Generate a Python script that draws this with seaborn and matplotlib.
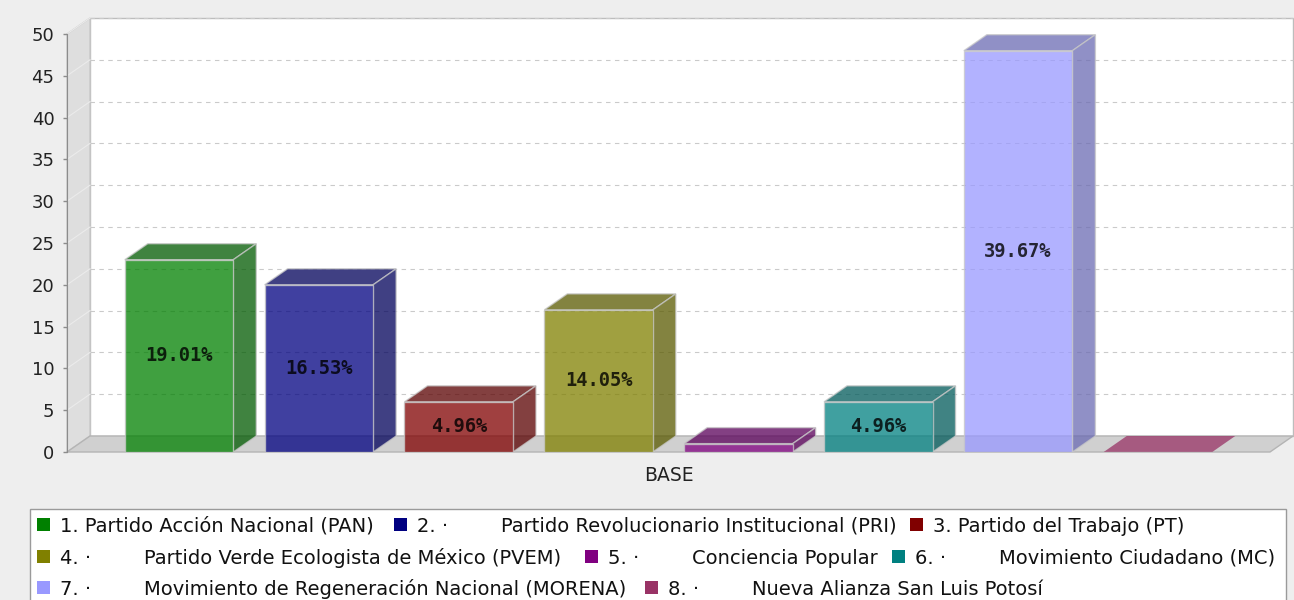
import numpy as np
import pandas as pd
import seaborn as sns
import matplotlib
matplotlib.use("Agg")
from matplotlib import pyplot as plt
from matplotlib.patches import Polygon, Rectangle
from matplotlib.lines import Line2D
from matplotlib.transforms import IdentityTransform
from matplotlib.colors import to_rgb

# --- datos ---
categoria = "BASE"
partidos = [
    "1. Partido Acción Nacional (PAN)",
    "2. ·\tPartido Revolucionario Institucional (PRI)",
    "3. Partido del Trabajo (PT)",
    "4. ·\tPartido Verde Ecologista de México (PVEM)",
    "5. ·\tConciencia Popular",
    "6. ·\tMovimiento Ciudadano (MC)",
    "7. ·\tMovimiento de Regeneración Nacional (MORENA)",
    "8. ·\tNueva Alianza San Luis Potosí",
]
votos = [23, 20, 6, 17, 1, 6, 48, 0]
etiquetas = ["19.01%", "16.53%", "4.96%", "14.05%", "", "4.96%", "39.67%", ""]
colores = ["#008000", "#000080", "#800000", "#808000",
           "#800080", "#008080", "#9999ff", "#993366"]
ticks_y = list(range(0, 51, 5))

df = pd.DataFrame({"categoria": [categoria] * len(partidos),
                   "partido": partidos, "votos": votos})

# --- geometria (pixeles de la imagen) ---
W, H = 1294, 600
x_izq, x_der = 67, 1270
y_base, y_tope = 452, 34
dx, dy = 23, 16
borde = "#c8c8c8"

fig = plt.figure(figsize=(W / 100, H / 100), dpi=100, facecolor="#eeeeee")
ax = fig.add_axes([x_izq / W, (H - y_base) / H, (x_der - x_izq) / W, (y_base - y_tope) / H])
ax.patch.set_visible(False)

sns.barplot(data=df, x="categoria", y="votos", hue="partido", hue_order=partidos,
            palette=colores, saturation=1, width=0.93, gap=0.224, alpha=0.75,
            edgecolor=borde, linewidth=1, legend=False, ax=ax, zorder=3)
ax.set_xlim(-0.5, 0.5)
ax.set_ylim(0, 50)
barras = sorted(ax.patches, key=lambda p: p.get_x())

T = ax.transData
I = IdentityTransform()

def pt(x, y):
    return T.transform((x, y))

x0d, y0d = pt(-0.5, 0)
x1d, y1d = pt(0.5, 50)

# paredes 3D
ax.add_patch(Rectangle((x0d + dx, y0d + dy), x1d - x0d, y1d - y0d, transform=I,
                       fc="white", ec="#bdbdbd", lw=1, zorder=0.5, clip_on=False))
for v in ticks_y[1:]:
    yv = pt(0, v)[1]
    ax.add_line(Line2D([x0d + dx, x1d + dx], [yv + dy, yv + dy], transform=I,
                       color="#cacaca", lw=0.8, ls=(0, (4, 4)), zorder=0.8, clip_on=False))
ax.add_patch(Polygon([(x0d, y0d), (x0d + dx, y0d + dy), (x0d + dx, y1d + dy), (x0d, y1d)],
                     transform=I, fc="#dedede", ec=borde, lw=1, zorder=1, clip_on=False))
for v in ticks_y[1:]:
    yv = pt(0, v)[1]
    ax.add_line(Line2D([x0d, x0d + dx], [yv, yv + dy], transform=I,
                       color="#ebebeb", lw=0.8, zorder=1.1, clip_on=False))
ax.add_patch(Polygon([(x0d, y0d), (x1d, y0d), (x1d + dx, y0d + dy), (x0d + dx, y0d + dy)],
                     transform=I, fc="#d0d0d0", ec="#b4b4b4", lw=1, zorder=1.2, clip_on=False))

# caras superior y lateral de cada barra
for p, col, lab in zip(barras, colores, etiquetas):
    h = p.get_height()
    bx0, by0 = pt(p.get_x(), 0)
    bx1, by1 = pt(p.get_x() + p.get_width(), h)
    oscuro = tuple(np.array(to_rgb(col)) * 0.7)
    arriba = oscuro if h > 0 else col
    ax.add_patch(Polygon([(bx0, by1), (bx1, by1), (bx1 + dx, by1 + dy), (bx0 + dx, by1 + dy)],
                         transform=I, fc=arriba, ec=borde if h > 0 else "none", lw=1,
                         alpha=0.75, zorder=2.8, clip_on=False))
    if h > 0:
        ax.add_patch(Polygon([(bx1, by0), (bx1 + dx, by0 + dy), (bx1 + dx, by1 + dy), (bx1, by1)],
                             transform=I, fc=oscuro, ec=borde, lw=1, alpha=0.75,
                             zorder=2.8, clip_on=False))
    if lab:
        ax.text(p.get_x() + p.get_width() / 2, h / 2, lab, ha="center", va="center",
                family="DejaVu Sans Mono", weight="bold", fontsize=13.5,
                color=(0, 0, 0, 0.8), zorder=4)

# ejes
for s in ["top", "right", "bottom"]:
    ax.spines[s].set_visible(False)
ax.spines["left"].set_color("#8c8c8c")
ax.spines["left"].set_zorder(2.5)
ax.set_yticks(ticks_y)
ax.tick_params(axis="y", length=3, width=1, color="#8c8c8c", labelsize=13,
               labelcolor="#222222", pad=6)
ax.tick_params(axis="x", length=0, pad=10, labelsize=13.5, labelcolor="#222222")
ax.set_xlabel("")
ax.set_ylabel("")

# leyenda (flujo en tres filas como el original)
fig.add_artist(Rectangle((30, -10), 1256, H - 509 + 10, transform=I,
                         fc="white", ec="#9a9a9a", lw=1))
fila_base = [532, 564, 595]
fila = [0, 0, 0, 1, 1, 1, 2, 2]
texto_x = [60, 417, 933, 60, 608, 915, 60, 668]
for lab, col, f, tx in zip(partidos, colores, fila, texto_x):
    yb = H - fila_base[f]
    fig.add_artist(Rectangle((tx - 23, yb + 1), 13, 13, transform=I, fc=col, ec="none"))
    partes = lab.split("\t")
    fig.text(tx, yb, partes[0], transform=I, fontsize=14, color="#111111", va="baseline")
    if len(partes) > 1:
        fig.text(tx + 84, yb, partes[1], transform=I, fontsize=14, color="#111111",
                 va="baseline")

fig.savefig("out.png", dpi=100, facecolor=fig.get_facecolor())
